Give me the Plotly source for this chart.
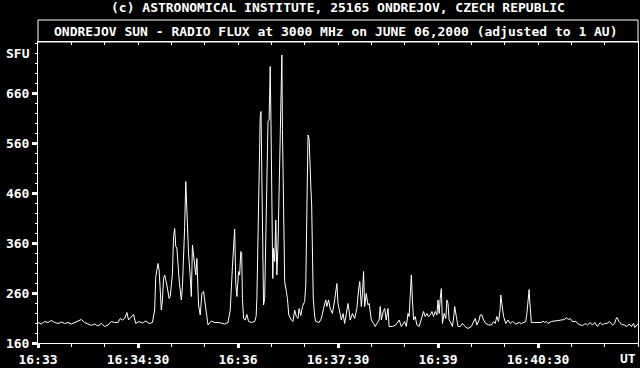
import pandas as pd
import plotly.graph_objects as go

# ---- data: seconds after 16:33:00 UT and radio flux (SFU) ----
seconds = [0, 3, 6, 9, 12, 15, 18, 21, 24, 27, 30, 33, 36, 39, 42, 45, 48, 51, 54, 57, 60, 63, 66, 69, 72,
           74, 76, 78, 80, 81.5, 84, 86, 88, 91, 94, 97, 100, 103, 105, 106, 108, 109, 111, 112, 113, 114,
           116, 118, 119, 121, 122, 123, 124, 125, 127, 128, 129, 130, 131, 132, 133, 134, 135.5, 137, 138,
           139, 140.5, 142, 143, 144.5, 146, 147.5, 149, 151, 153, 156, 159, 163, 168, 171, 173, 175, 177,
           178, 179, 180.5, 181.5, 182.5, 183.3, 184, 185, 186.5, 188, 189.5, 192, 195, 196.3, 197, 198,
           199, 200, 200.7, 201.3, 202, 203, 204, 205, 206, 207, 208, 209, 209.7, 210.5, 211.3, 212, 213,
           214, 215, 216, 217, 218, 219, 219.5, 220, 221, 222, 223.5, 224.5, 225.7, 228, 229.5, 231, 232.5,
           234, 235, 236.5, 238, 240, 241, 242, 243, 244, 244.6, 245.5, 246.3, 247, 247.7, 249, 250, 253,
           255, 257, 259, 260, 261.5, 263, 265, 267, 269, 270, 271.5, 273, 274.5, 276, 277.5, 279, 281,
           283, 285, 287, 288.5, 289.6, 291, 292, 293, 294, 295.4, 297, 298, 300, 302, 303.5, 305, 307,
           308, 309, 310.7, 312, 313.4, 315, 316, 319, 322, 325, 327, 330, 331.5, 333, 334, 335, 336, 337,
           338, 339.5, 341, 343, 345, 347, 348.5, 350, 351.5, 353, 354.5, 356, 357.5, 359, 360, 361, 362,
           363, 364, 365.5, 367, 368, 369, 370, 371, 373, 374.5, 375, 376.5, 378, 380, 382, 384.5, 387,
           390, 392, 393.5, 395, 397, 398, 399.5, 401, 403, 405.7, 408, 410, 411.5, 413, 414.5, 416,
           416.5, 417.5, 419, 421, 423, 425, 427, 430, 433, 435, 438, 439, 440, 441, 442, 442.5, 443, 444,
           447, 450, 453, 454.5, 456, 457.5, 459, 462, 465, 468, 471, 474, 475.5, 477, 479, 481, 484, 487,
           490, 493, 494.5, 497, 499, 501, 503.5, 506, 508, 510, 512, 514.5, 517, 519, 520, 521, 523, 525,
           527.5, 530, 532, 534, 536, 537, 539, 540]
flux = [201, 198, 203, 201, 205, 201, 199, 202, 199, 201, 198, 201, 203, 207, 201, 198, 195, 198, 194, 199,
        193, 196, 203, 201, 201, 209, 206, 209, 221, 206, 213, 217, 199, 203, 200, 204, 199, 201, 226, 293,
        319, 306, 226, 246, 289, 296, 276, 249, 253, 299, 373, 389, 353, 350, 286, 266, 246, 273, 323, 393,
        483, 426, 339, 293, 253, 356, 326, 296, 329, 236, 216, 259, 263, 223, 196, 204, 201, 201, 198, 201,
        226, 313, 388, 279, 253, 303, 296, 343, 341, 249, 209, 206, 217, 203, 201, 203, 213, 249, 363, 526,
        613, 623, 536, 383, 236, 249, 363, 463, 603, 606, 713, 596, 409, 289, 349, 323, 406, 296, 356, 476,
        586, 649, 736, 589, 436, 283, 263, 249, 216, 206, 203, 226, 213, 209, 229, 215, 233, 243, 276, 469,
        576, 569, 503, 476, 436, 346, 250, 213, 203, 201, 209, 229, 246, 233, 246, 229, 219, 246, 279, 239,
        219, 206, 219, 199, 219, 239, 206, 219, 209, 229, 266, 283, 233, 259, 303, 233, 259, 236, 239, 206,
        199, 193, 199, 206, 233, 206, 223, 229, 206, 229, 193, 193, 196, 206, 193, 203, 193, 219, 213, 253,
        296, 246, 206, 213, 196, 193, 206, 223, 213, 219, 213, 216, 223, 213, 223, 216, 246, 219, 249, 269,
        199, 219, 209, 246, 239, 206, 203, 193, 219, 233, 213, 193, 193, 199, 193, 189, 193, 203, 209, 196,
        206, 216, 216, 206, 199, 196, 196, 203, 199, 213, 203, 229, 256, 239, 213, 199, 206, 199, 203, 198,
        201, 199, 201, 203, 219, 249, 267, 246, 226, 201, 201, 201, 201, 204, 201, 203, 199, 203, 204, 205,
        206, 207, 211, 207, 209, 203, 203, 197, 195, 199, 196, 201, 196, 201, 193, 201, 196, 199, 199, 203,
        196, 199, 207, 211, 203, 198, 196, 193, 198, 193, 199, 191, 196, 198]

start = "2000-06-06 16:33:00"
end = "2000-06-06 16:42:00"
tick_times = ["16:33:00", "16:34:30", "16:36:00", "16:37:30", "16:39:00", "16:40:30"]
tick_labels = ["16:33", "16:34:30", "16:36", "16:37:30", "16:39", "16:40:30"]
y_ticks = [160, 260, 360, 460, 560, 660]
y_range = [160, 762]

title1 = "(c) ASTRONOMICAL INSTITUTE, 25165 ONDREJOV, CZECH REPUBLIC"
title2 = "ONDREJOV SUN - RADIO FLUX at 3000 MHz on JUNE 06,2000 (adjusted to 1 AU)"

base = pd.Timestamp(start)
times = [base + pd.Timedelta(seconds=s) for s in seconds]
tickvals = [pd.Timestamp("2000-06-06 " + t) for t in tick_times]

FONT = "DejaVu Sans Mono"
W = "white"


def b(s):
    return "<b>" + s + "</b>"


fig = go.Figure()
fig.add_trace(go.Scatter(x=times, y=flux, mode="lines",
                         line=dict(color=W, width=1), hoverinfo="skip", showlegend=False))
# invisible trace to carry the top tick axis
fig.add_trace(go.Scatter(x=[times[0]], y=[flux[0]], xaxis="x2", mode="lines",
                         line=dict(color="rgba(0,0,0,0)", width=0), hoverinfo="skip", showlegend=False))

fig.update_layout(
    width=640, height=368,
    margin=dict(l=38, r=2, t=42, b=25, pad=0),
    paper_bgcolor="black", plot_bgcolor="black",
    font=dict(family=FONT, size=13, color=W),
    xaxis=dict(type="date", range=[start, end], showgrid=False, zeroline=False,
               showline=True, linecolor=W, linewidth=1, mirror=True,
               tickmode="array", tickvals=tickvals, ticktext=[b(t) for t in tick_labels],
               ticks="outside", ticklen=4, tickwidth=3, tickcolor=W,
               tickfont=dict(family=FONT, size=13, color=W),
               minor=dict(ticks="outside", ticklen=3, tickwidth=1, tickcolor=W,
                          dtick=30000, tick0=start)),
    xaxis2=dict(type="date", range=[start, end], overlaying="x", side="top",
                showgrid=False, zeroline=False, showline=False, showticklabels=False,
                ticks="inside", ticklen=3, tickwidth=1, tickcolor=W,
                dtick=30000, tick0=start),
    yaxis=dict(range=y_range, showgrid=False, zeroline=False,
               showline=True, linecolor=W, linewidth=1, mirror=True,
               tickmode="array", tickvals=y_ticks, ticktext=[b(str(v)) for v in y_ticks],
               ticks="outside", ticklen=5, tickwidth=3, tickcolor=W,
               tickfont=dict(family=FONT, size=13, color=W),
               minor=dict(ticks="outside", ticklen=2, tickwidth=1, tickcolor=W,
                          dtick=20, tick0=160)),
)

top_box = (343 - 20) / 301
fig.add_shape(type="rect", xref="paper", yref="paper", x0=0, x1=1, y0=1, y1=top_box,
              line=dict(color=W, width=1))

fig.add_annotation(text=b(title1), xref="paper", yref="paper", x=0.5, y=(343 - 8) / 301,
                   xanchor="center", yanchor="middle", showarrow=False,
                   font=dict(family=FONT, size=13, color=W))
fig.add_annotation(text=b(title2), xref="paper", yref="paper", x=(335.5 - 38) / 600, y=(343 - 31) / 301,
                   xanchor="center", yanchor="middle", showarrow=False,
                   font=dict(family=FONT, size=13, color=W))
fig.add_annotation(text=b("SFU"), xref="paper", yref="paper", x=-6 / 600, y=(343 - 53) / 301,
                   xanchor="right", yanchor="middle", showarrow=False,
                   font=dict(family=FONT, size=13, color=W))
fig.add_annotation(text=b("UT"), xref="paper", yref="paper", x=1, y=-(358 - 343) / 301,
                   xanchor="right", yanchor="middle", showarrow=False,
                   font=dict(family=FONT, size=13, color=W))

fig.write_html("out.html")
